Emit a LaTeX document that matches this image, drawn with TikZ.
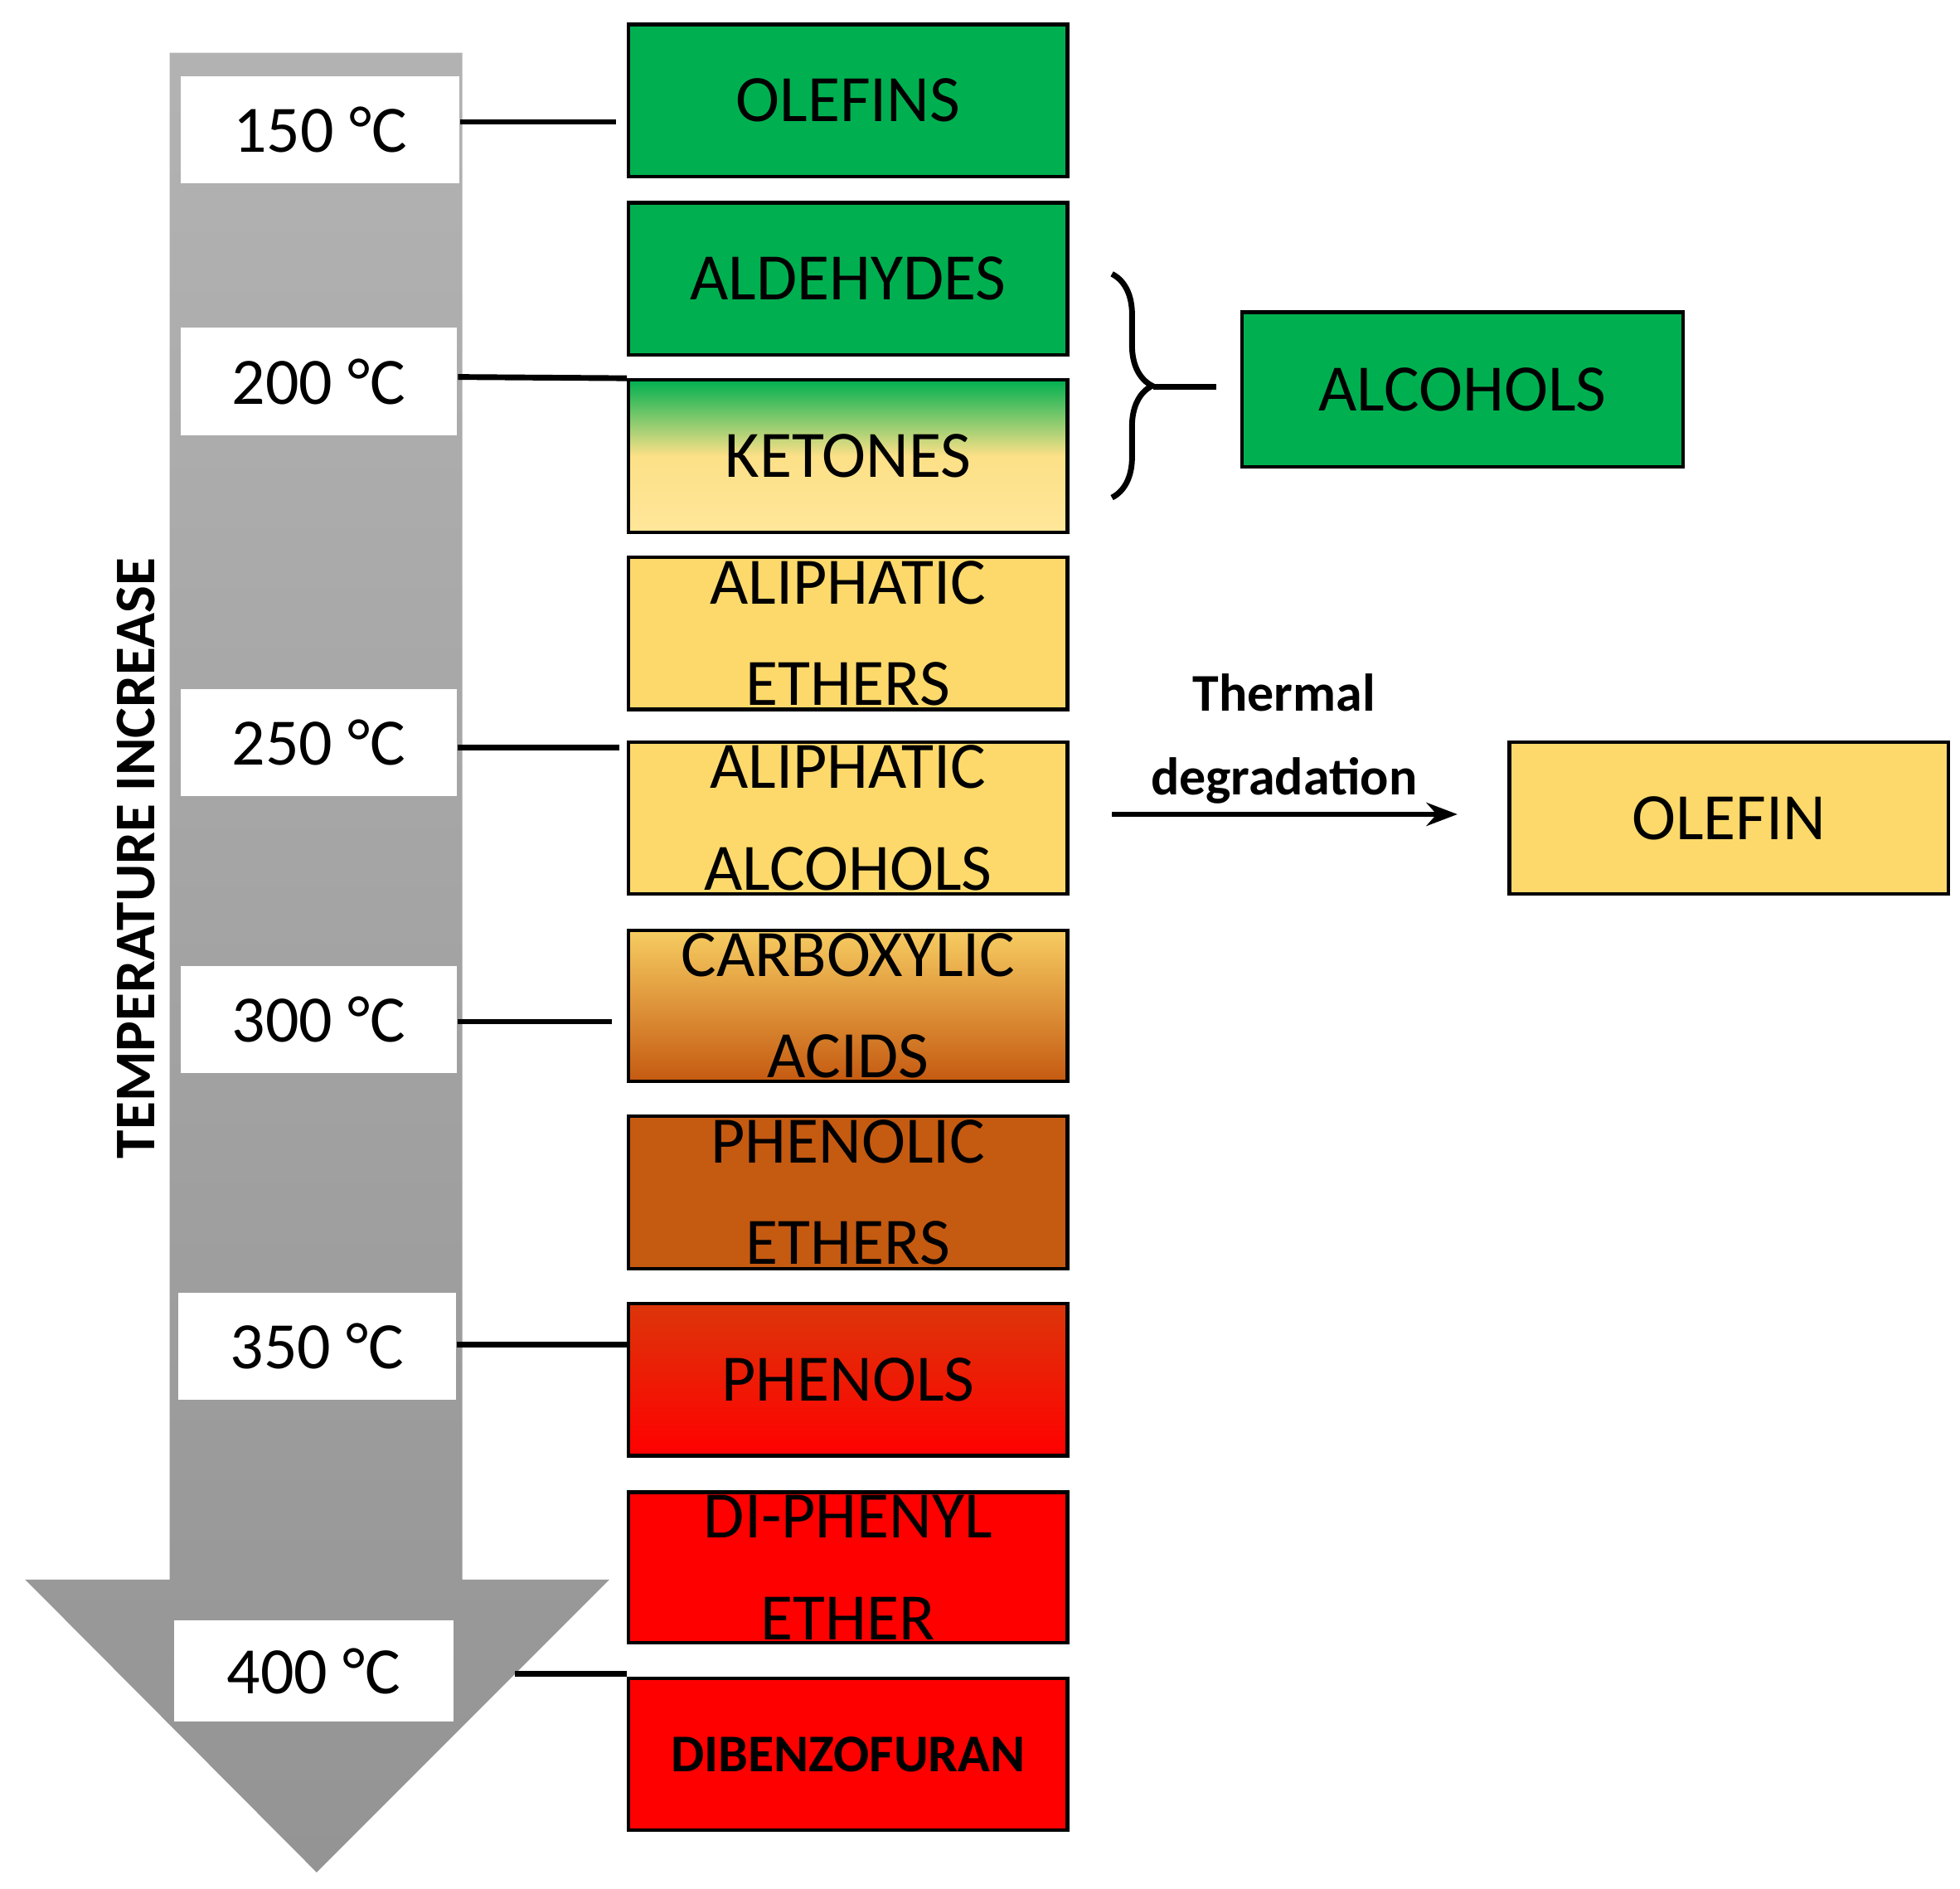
\documentclass[tikz,border=0pt]{standalone}
\usepackage{fontspec}
\setmainfont{Carlito}
\usetikzlibrary{decorations.pathreplacing,arrows.meta}
\definecolor{gr}{HTML}{00B050}
\definecolor{ye}{HTML}{FCD96A}
\definecolor{ly}{HTML}{FFE699}
\definecolor{br}{HTML}{C55A11}
\definecolor{rd}{HTML}{FF0000}
\tikzset{x=0.01cm,y=-0.01cm,
 box/.style={draw=black,line width=0.8pt,minimum width=3.49cm,minimum height=1.21cm,inner sep=0pt,align=center,font=\fontsize{15}{23}\selectfont,anchor=north west},
 temp/.style={fill=white,inner sep=0pt,minimum height=0.85cm,minimum width=2.2cm,font=\fontsize{15}{18}\selectfont,anchor=north west},
 ln/.style={line width=1.3pt}}
\begin{document}
\begin{tikzpicture}
\useasboundingbox (0,0) rectangle (1560,1503);
\shade[top color=black!30,bottom color=black!42] (135,42) -- (368,42) -- (368,1257) -- (485,1257) -- (252,1490) -- (20,1257) -- (135,1257) -- cycle;
\node[rotate=90,font=\fontsize{13}{15}\selectfont\bfseries] (ti) at (108,683) {TEMPERATURE INCREASE};
\node[temp,minimum width=2.22cm] (t1) at (143,60) {150 °C};
\node[temp,minimum height=0.86cm] (t2) at (143,260) {200 °C};
\node[temp] (t3) at (143,548) {250 °C};
\node[temp] (t4) at (143,768) {300 °C};
\node[temp,minimum width=2.21cm] (t5) at (141,1028) {350 °C};
\node[temp,minimum height=0.8cm,minimum width=2.22cm] (t6) at (138,1289) {400 °C};
\node[box,fill=gr] (b1) at (499,18) {OLEFINS};
\node[box,fill=gr] (b2) at (499,160) {ALDEHYDES};
\node[box,top color=gr,bottom color=ly,middle color=ye!80!white,shading angle=0] (b3) at (499,301) {KETONES};
\node[box,fill=ye] (b4) at (499,442) {ALIPHATIC\\ETHERS};
\node[box,fill=ye] (b5) at (499,589) {ALIPHATIC\\ALCOHOLS};
\node[box,top color=ye!90!br,bottom color=br,minimum height=1.2cm] (b6) at (499,739) {CARBOXYLIC\\ACIDS};
\node[box,fill=br] (b7) at (499,887) {PHENOLIC\\ETHERS};
\node[box,top color=br!60!rd,bottom color=rd] (b8) at (499,1036) {PHENOLS};
\node[box,fill=rd,minimum height=1.2cm] (b9) at (499,1186) {DI-PHENYL\\ETHER};
\node[box,fill=rd,font=\fontsize{12}{14}\selectfont\bfseries] (b10) at (499,1334) {DIBENZOFURAN};
\node[box,fill=gr,minimum width=3.51cm,minimum height=1.23cm] (al) at (987,247) {ALCOHOLS};
\node[box,fill=ye] (ol) at (1200,589) {OLEFIN};
\draw[ln] (t1.east|-0,97) -- (490,97);
\draw[ln] (t2.east|-0,300) -- (b3.north west);
\draw[ln] (t3.east|-0,595) -- (493,595);
\draw[ln] (t4.east|-0,813) -- (487,813);
\draw[ln] (t5.east|-0,1070) -- (b8.west|-0,1070);
\draw[ln] (410,1332) -- (b10.west|-0,1332);
\draw[ln,decorate,decoration={brace,amplitude=0.32cm}] (885,218) -- (885,396);
\coordinate (bm) at (968,308);
\draw[ln] (918,308) -- (bm);
\node[font=\fontsize{12}{19}\selectfont\bfseries,align=center] (td) at (1022,588) {Thermal\\degradation};
\coordinate (a0) at (885,648);
\draw[ln,-{Stealth[length=7pt]}] (a0) -- (1160,648);
\end{tikzpicture}
\end{document}
